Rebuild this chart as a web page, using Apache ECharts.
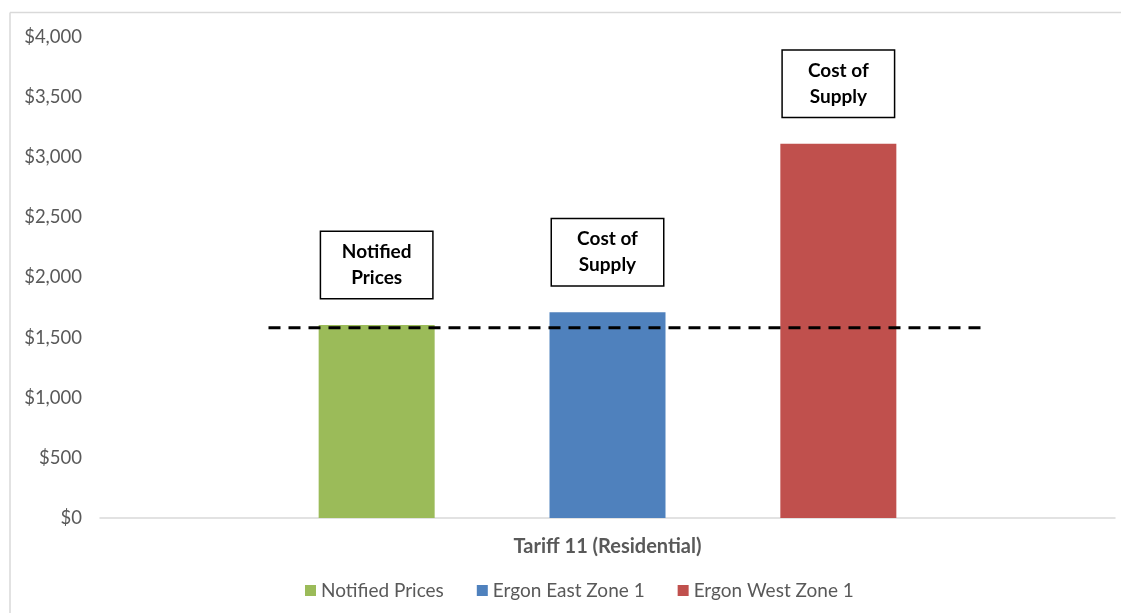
<!DOCTYPE html>
<html>
<head>
<meta charset="utf-8">
<script src="https://cdn.jsdelivr.net/npm/echarts@6/dist/echarts.min.js"></script>
<style>
html,body{margin:0;padding:0;background:#fff;}
#chart{width:1121px;height:613px;}
</style>
</head>
<body>
<div id="chart"></div>
<script>
// ---- data ----
const categories = ['Tariff 11 (Residential)'];
const seriesNames = ['Notified Prices', 'Ergon East Zone 1', 'Ergon West Zone 1'];
const notifiedPrices = [1605];
const ergonEast = [1712];
const ergonWest = [3112];
const boxLabels = ['Notified\nPrices', 'Cost of\nSupply', 'Cost of\nSupply'];
const yTicks = [0, 500, 1000, 1500, 2000, 2500, 3000, 3500, 4000];
const refLineX = [0.166, 0.872];
const refLineY = [1582, 1582];

const colors = ['#9BBB59', '#4F81BD', '#C0504D'];
const font = 'Lato, "Open Sans", sans-serif';
const seriesData = [notifiedPrices, ergonEast, ergonWest];

const chart = echarts.init(document.getElementById('chart'), null, {renderer: 'canvas'});

const barSeries = seriesNames.map((name, i) => ({
  name: name,
  type: 'bar',
  xAxisIndex: 0,
  yAxisIndex: 0,
  data: seriesData[i],
  barWidth: 116,
  barGap: '99%',
  itemStyle: {color: colors[i]},
  emphasis: {disabled: true},
  z: 2,
  label: {
    show: true,
    position: 'top',
    distance: 27,
    formatter: () => boxLabels[i],
    fontFamily: font,
    fontWeight: 'bold',
    fontSize: 19,
    color: '#000',
    lineHeight: 26,
    width: 95,
    align: 'center',
    backgroundColor: '#fff',
    borderColor: '#000',
    borderWidth: 1.5,
    padding: [7, 8, 7, 8]
  }
}));

const option = {
  animation: false,
  backgroundColor: '#fff',
  graphic: [
    {type: 'line', shape: {x1: 10, y1: 12.5, x2: 1121, y2: 12.5}, style: {stroke: '#D9D9D9', lineWidth: 1.5}, silent: true},
    {type: 'line', shape: {x1: 10, y1: 12.5, x2: 10, y2: 613}, style: {stroke: '#D9D9D9', lineWidth: 1.5}, silent: true}
  ],
  grid: {left: 100, right: 6, top: 37, bottom: 95, containLabel: false},
  legend: {
    data: seriesNames,
    top: 576,
    left: 300,
    icon: 'rect',
    itemWidth: 11,
    itemHeight: 11,
    itemGap: 33,
    textStyle: {fontFamily: font, fontSize: 19, color: '#595959'}
  },
  xAxis: [
    {
      type: 'category',
      data: categories,
      axisLine: {show: true, lineStyle: {color: '#D9D9D9', width: 1.5}},
      axisTick: {show: false},
      axisLabel: {fontFamily: font, fontSize: 20, fontWeight: 'bold', color: '#595959', margin: 19}
    },
    {
      type: 'value',
      min: 0,
      max: 1,
      show: false
    }
  ],
  yAxis: {
    type: 'value',
    min: yTicks[0],
    max: yTicks[yTicks.length - 1],
    interval: 500,
    axisLine: {show: false},
    axisTick: {show: false},
    splitLine: {show: false},
    axisLabel: {
      fontFamily: font,
      fontSize: 18.5,
      color: '#595959',
      margin: 18,
      formatter: v => '$' + v.toLocaleString('en-US')
    }
  },
  series: barSeries.concat([{
    name: 'ref',
    type: 'line',
    xAxisIndex: 1,
    yAxisIndex: 0,
    data: refLineX.map((x, i) => [x, refLineY[i]]),
    symbol: 'none',
    lineStyle: {color: '#000', width: 3, type: [12, 8]},
    emphasis: {disabled: true},
    silent: true,
    z: 5
  }])
};

chart.setOption(option);
</script>
</body>
</html>
